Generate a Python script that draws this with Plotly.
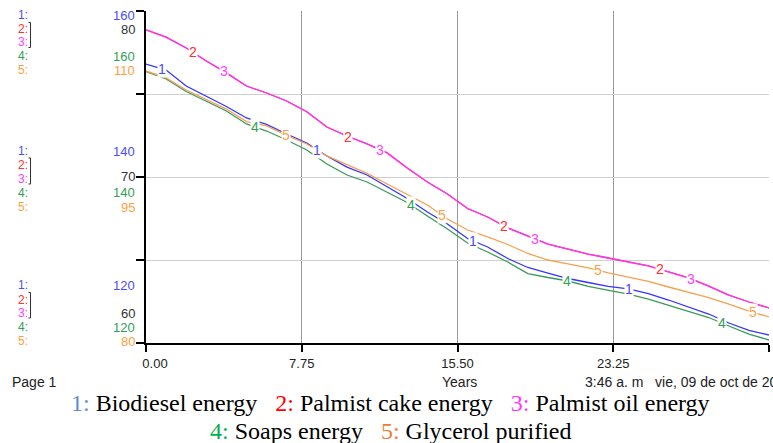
import numpy as np
import plotly.graph_objects as go

# time axis (years)
years = list(range(0, 32))

# series values (each on its own scale)
biodiesel_energy = [153.61, 152.89, 150.96, 149.70, 148.49, 147.11, 146.33, 145.18, 144.10, 142.53,
                    141.20, 140.24, 138.80, 137.41, 135.78, 134.34, 132.59, 131.57, 130.18, 129.10,
                    128.43, 127.77, 127.29, 126.81, 126.51, 125.96, 125.18, 124.34, 123.49, 122.41,
                    121.51, 120.96]
palmist_cake_energy = [78.86, 78.43, 77.77, 76.99, 76.27, 75.48, 75.06, 74.58, 73.93, 73.01,
                       72.47, 71.99, 71.45, 70.54, 69.70, 68.98, 68.10, 67.59, 66.93, 66.45,
                       65.96, 65.66, 65.36, 65.12, 64.88, 64.64, 64.28, 63.92, 63.43, 62.89,
                       62.47, 62.11]
palmist_oil_energy = [78.86, 78.43, 77.77, 76.99, 76.27, 75.48, 75.06, 74.58, 73.93, 73.01,
                      72.47, 71.99, 71.45, 70.54, 69.70, 68.98, 68.10, 67.59, 66.93, 66.45,
                      65.96, 65.66, 65.36, 65.12, 64.88, 64.64, 64.28, 63.92, 63.43, 62.89,
                      62.47, 62.11]
soaps_energy = [152.71, 151.81, 150.30, 149.10, 147.95, 146.39, 145.54, 144.46, 143.25, 141.57,
                140.24, 139.40, 138.19, 136.93, 135.30, 133.73, 132.05, 130.96, 129.76, 128.37,
                127.89, 127.47, 126.81, 126.33, 125.90, 125.30, 124.58, 123.86, 123.07, 122.05,
                121.08, 120.36]
glycerol_purified = [104.58, 103.95, 102.86, 102.00, 101.14, 100.01, 99.61, 98.75, 97.98, 96.90,
                     96.08, 95.32, 94.37, 93.42, 92.47, 91.20, 90.21, 89.58, 88.90, 88.09,
                     87.50, 87.14, 86.78, 86.33, 85.92, 85.56, 85.06, 84.61, 84.11, 83.52,
                     82.89, 82.35]

# scales shown on the left: bottom, middle, top
scale_biodiesel = [120, 140, 160]
scale_palmist = [60, 70, 80]
scale_soaps = [120, 140, 160]
scale_glycerol = [80, 95, 110]

x_ticks = [0, 7.75, 15.5, 23.25, 31]
# the first label sits a little right of its tick in the original
x_tick_labels = ["\u00a0\u00a0\u00a0\u00a0\u00a00.00", "7.75", "15.50", "23.25", "31.00"]

names = ["Biodiesel energy", "Palmist cake energy", "Palmist oil energy", "Soaps energy", "Glycerol purified"]

line_colors = ["#3535ff", "#ff3333", "#ff33ff", "#3a9a5a", "#f7a050"]
num_colors = ["#4a4aff", "#ff3030", "#ff40ff", "#33a055", "#ffa040"]
legend_colors = ["#5b8bd0", "#ff0000", "#ff33ff", "#00b050", "#ed7d31"]

series = [biodiesel_energy, palmist_cake_energy, palmist_oil_energy, soaps_energy, glycerol_purified]
axes = ["y", "y2", "y2", "y3", "y4"]

# plot area in pixels
L, R, T, B = 146, 769, 11, 343


def px(x):
    return (x - L) / (R - L)


def py(y):
    return (B - y) / (B - T)


fig = go.Figure()

for i, vals in enumerate(series):
    fig.add_trace(go.Scatter(
        x=years, y=vals, mode="lines", name=names[i], yaxis=axes[i],
        line=dict(color=line_colors[i], width=1.3),
        hoverinfo="skip",
    ))

# numbered labels sitting on the lines
for i, vals in enumerate(series):
    for j in range(4):
        t = 0.775 + i * 1.55 + j * 7.75
        fig.add_annotation(
            x=t, y=float(np.interp(t, years, vals)), xref="x", yref=axes[i],
            text=str(i + 1), showarrow=False, bgcolor="white", borderpad=0,
            font=dict(family="Liberation Sans", size=14, color=num_colors[i]),
        )

# left-hand scale labels
row_ys = {
    "top": [15, 29, 42, 56, 70],
    "mid": [151, 165, 179, 193, 207],
    "bot": [285, 300, 313, 327, 341],
}
pair_y = {"top": 29, "mid": 176, "bot": 313}
bracket = {"top": (22.5, 47.5), "mid": (158, 184), "bot": (292.5, 318)}
idx = {"bot": 0, "mid": 1, "top": 2}

for g, ys in row_ys.items():
    k = idx[g]
    for i in range(5):
        fig.add_annotation(
            x=px(16), y=py(ys[i]), xref="paper", yref="paper", xanchor="left", yanchor="middle",
            text=f"{i + 1}:", showarrow=False,
            font=dict(family="Liberation Sans", size=12, color=num_colors[i]),
        )
    vals_here = [
        (ys[0], scale_biodiesel[k], num_colors[0]),
        (pair_y[g], scale_palmist[k], "#333333"),
        (ys[3], scale_soaps[k], num_colors[3]),
        (ys[4], scale_glycerol[k], num_colors[4]),
    ]
    for yy, v, c in vals_here:
        fig.add_annotation(
            x=px(137), y=py(yy), xref="paper", yref="paper", xanchor="right", yanchor="middle",
            text=str(v), showarrow=False,
            font=dict(family="Liberation Sans", size=13, color=c),
        )
    y0, y1 = bracket[g]
    fig.add_shape(
        type="path", xref="paper", yref="paper",
        path=f"M {px(28.5)} {py(y0)} L {px(30.5)} {py(y0)} L {px(30.5)} {py(y1)} L {px(28.5)} {py(y1)}",
        line=dict(color="#333333", width=1),
    )

# footer texts
foot = dict(family="Liberation Sans", size=14, color="#222222")
fig.add_annotation(x=px(10), y=py(382), xref="paper", yref="paper", xanchor="left", yanchor="middle",
                   text="Page 1", showarrow=False, font=foot)
fig.add_annotation(x=px(459), y=py(382), xref="paper", yref="paper", xanchor="center", yanchor="middle",
                   text="Years", showarrow=False, font=foot)
fig.add_annotation(x=px(583), y=py(382), xref="paper", yref="paper", xanchor="left", yanchor="middle",
                   text="3:46 a. m   vie, 09 de oct de 2015", showarrow=False, font=foot)

# legend text in two centred lines
leg = ["<span style='color:%s'>%d:</span> %s" % (legend_colors[i], i + 1, names[i]) for i in range(5)]
lf = dict(family="Liberation Serif, Times New Roman, serif", size=24, color="black")
fig.add_annotation(x=px(390.5), y=py(403), xref="paper", yref="paper", xanchor="center", yanchor="middle",
                   text="   ".join(leg[:3]), showarrow=False, font=lf)
fig.add_annotation(x=px(390.5), y=py(431), xref="paper", yref="paper", xanchor="center", yanchor="middle",
                   text="   ".join(leg[3:]), showarrow=False, font=lf)

fig.update_layout(
    width=773, height=443,
    margin=dict(l=L, r=773 - R, t=T, b=443 - B),
    paper_bgcolor="white", plot_bgcolor="white",
    showlegend=False,
    font=dict(family="Liberation Sans", size=12, color="#222222"),
    xaxis=dict(
        range=[0, 31], tickvals=x_ticks, ticktext=x_tick_labels,
        showgrid=True, gridcolor="#9a9a9a", gridwidth=1,
        showline=True, linecolor="black", linewidth=2,
        ticks="outside", ticklen=7, tickwidth=2, tickcolor="black",
        zeroline=False, tickfont=dict(size=13, color="#222222"),
    ),
    yaxis=dict(
        range=[scale_biodiesel[0], scale_biodiesel[2]], tickvals=[120, 130, 140, 150, 160],
        showticklabels=False, showgrid=True, gridcolor="#cfcfcf", gridwidth=1,
        showline=True, linecolor="black", linewidth=2,
        ticks="outside", ticklen=8, tickwidth=2, tickcolor="black", zeroline=False,
    ),
    yaxis2=dict(range=[scale_palmist[0], scale_palmist[2]], overlaying="y", visible=False),
    yaxis3=dict(range=[scale_soaps[0], scale_soaps[2]], overlaying="y", visible=False),
    yaxis4=dict(range=[scale_glycerol[0], scale_glycerol[2]], overlaying="y", visible=False),
)

# page body has a default 8px margin; drop it so the figure fills the window
fig.write_html("out.html", config={"displayModeBar": False},
               post_script="document.body.style.margin='0px';")
